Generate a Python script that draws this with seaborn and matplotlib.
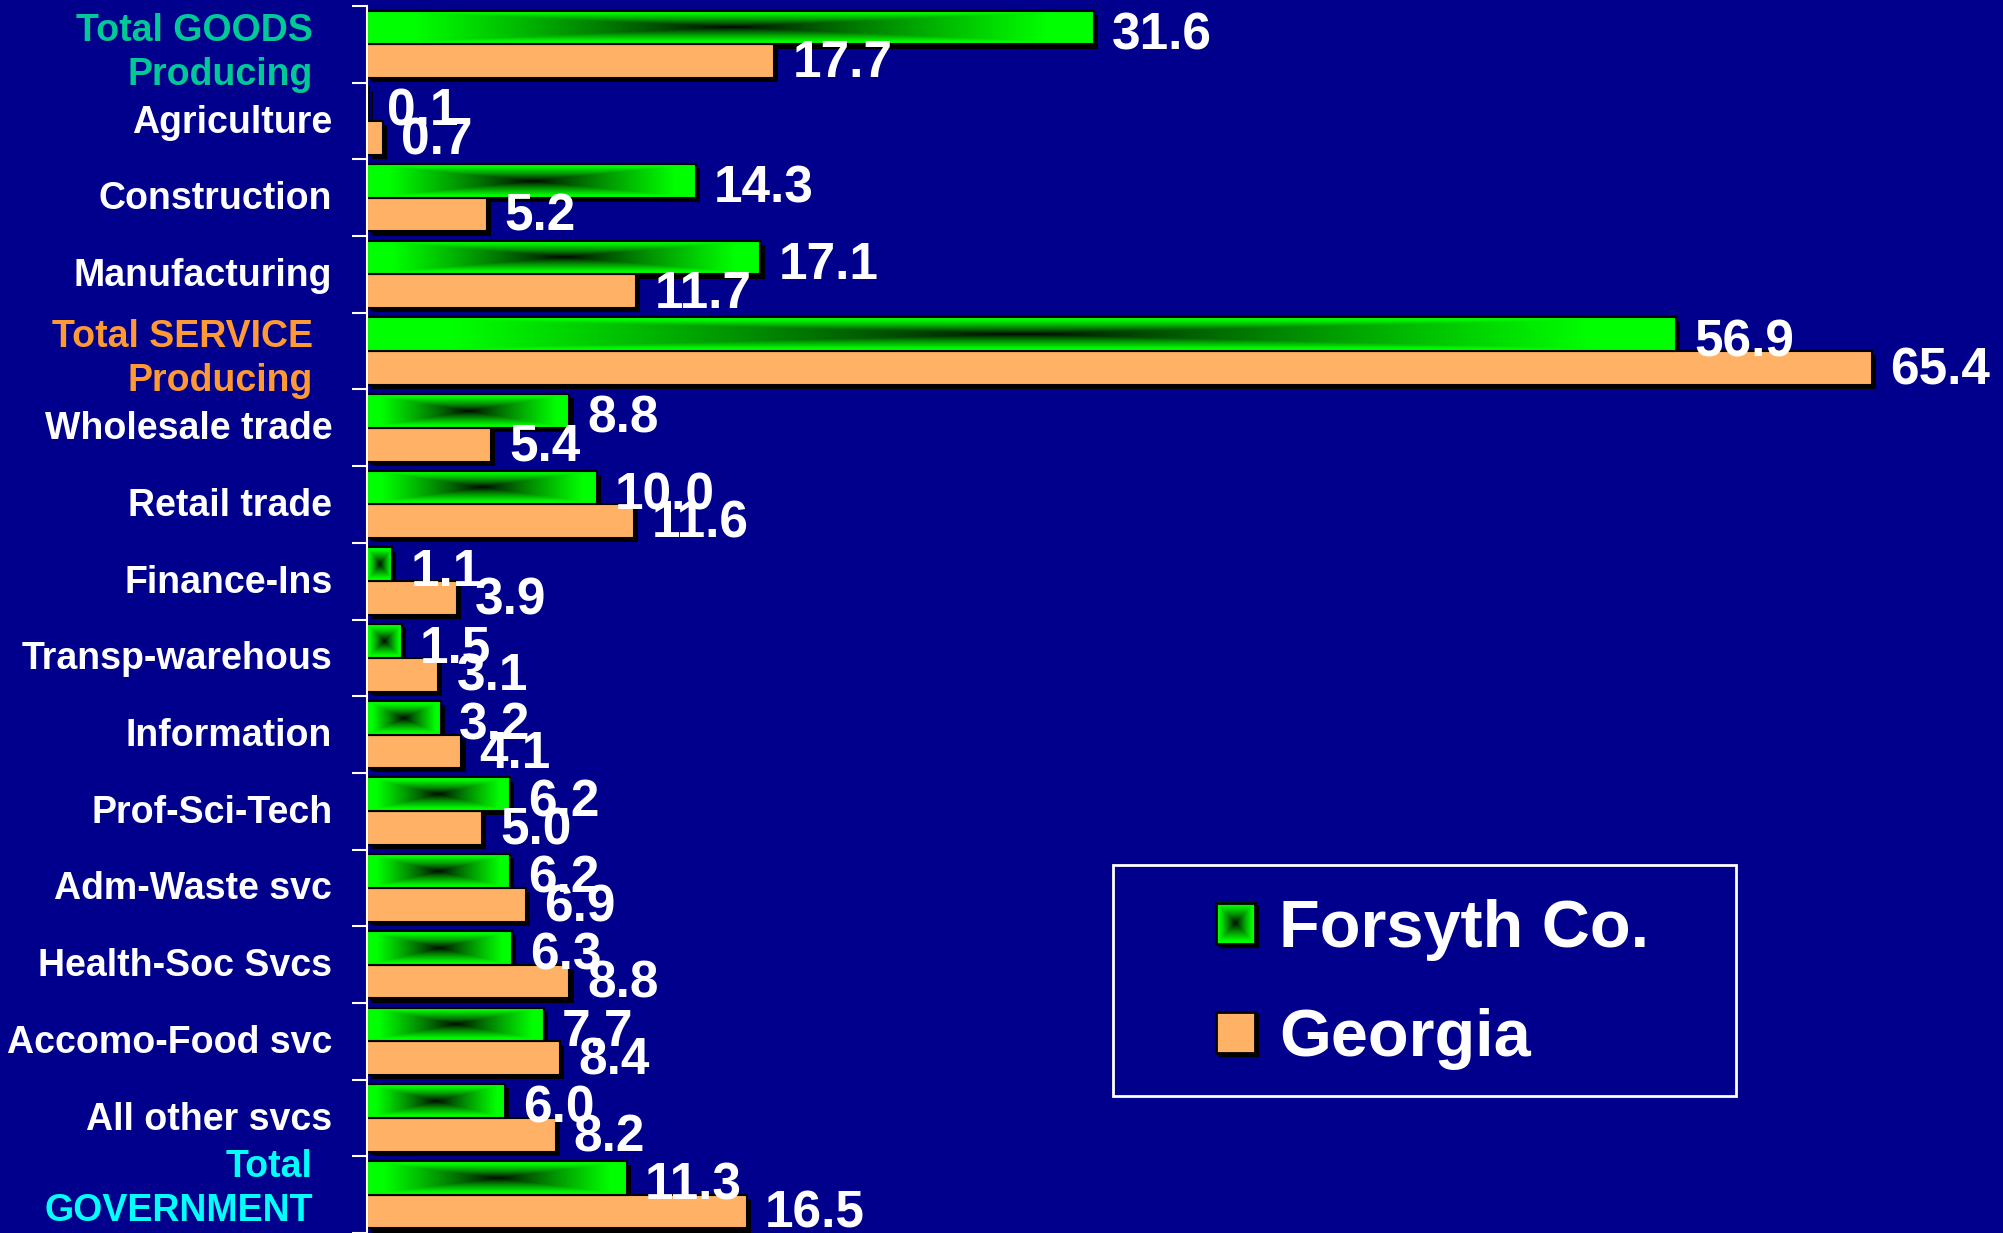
import numpy as np
import pandas as pd
import matplotlib
matplotlib.use("Agg")
import matplotlib.pyplot as plt
import matplotlib.patheffects as pe
from matplotlib.patches import Rectangle
from matplotlib.legend_handler import HandlerBase
from matplotlib.image import BboxImage
from matplotlib.transforms import Bbox, TransformedBbox
import seaborn as sns

categories = ["Total GOODS\nProducing", "Agriculture", "Construction", "Manufacturing",
              "Total SERVICE\nProducing", "Wholesale trade", "Retail trade", "Finance-Ins",
              "Transp-warehous", "Information", "Prof-Sci-Tech", "Adm-Waste svc",
              "Health-Soc Svcs", "Accomo-Food svc", "All other svcs", "Total\nGOVERNMENT"]
forsyth = [31.6, 0.1, 14.3, 17.1, 56.9, 8.8, 10.0, 1.1, 1.5, 3.2, 6.2, 6.2, 6.3, 7.7, 6.0, 11.3]
georgia = [17.7, 0.7, 5.2, 11.7, 65.4, 5.4, 11.6, 3.9, 3.1, 4.1, 5.0, 6.9, 8.8, 8.4, 8.2, 16.5]
series = ["Forsyth Co.", "Georgia"]

# styling for the highlighted (total) category labels
special_style = {"Total GOODS\nProducing": ("#00C896", 0.115),
                 "Total SERVICE\nProducing": ("#FF9933", 0.10),
                 "Total\nGOVERNMENT": ("#00FFFF", -0.07)}

BG = "#00008C"
GREEN = "#00FF00"
ORANGE = "#FFB266"

df = pd.DataFrame({
    "category": categories * 2,
    "value": forsyth + georgia,
    "series": [series[0]] * len(categories) + [series[1]] * len(categories),
})

sns.set_theme(style="white")
plt.rcParams["font.family"] = ["Liberation Sans", "DejaVu Sans"]

fig = plt.figure(figsize=(20.03, 12.33), dpi=100, facecolor=BG)
ax = fig.add_axes([367 / 2003, 0.0, 1 - 367 / 2003, 1 - 6 / 1233])
ax.set_facecolor(BG)

sns.barplot(data=df, y="category", x="value", hue="series", orient="h",
            palette=[GREEN, ORANGE], width=0.88, ax=ax, legend=False,
            edgecolor="black", linewidth=1.5, saturation=1)

shadow = [pe.SimplePatchShadow(offset=(3, -3), shadow_rgbFace="black", alpha=1.0), pe.Normal()]


def grad_array(nx, ny):
    u = np.abs(np.linspace(-1, 1, nx))[None, :]
    w = np.abs(np.linspace(-1, 1, ny))[:, None]
    v = np.maximum(u, w)
    v = np.clip(v * 1.15, 0, 1) ** 0.8
    img = np.zeros((ny, nx, 3))
    img[..., 1] = v
    return img


for bar in ax.containers[0]:
    bar.set_path_effects(shadow)
    x0, y0, w, h = bar.get_x(), bar.get_y(), bar.get_width(), bar.get_height()
    if w <= 0.3:
        continue
    nx = max(20, int(w * 23))
    img = grad_array(nx, 40)
    im = ax.imshow(img, extent=(x0, x0 + w, y0 + h, y0), aspect="auto",
                   interpolation="bilinear", zorder=bar.get_zorder() + 0.1)
    im.set_clip_path(bar)
    ax.add_patch(Rectangle((x0, y0), w, h, facecolor="none", edgecolor="black",
                           linewidth=1.5, zorder=bar.get_zorder() + 0.2))
for bar in ax.containers[1]:
    bar.set_path_effects(shadow)

for k, cont in enumerate(ax.containers):
    dy = -6 if k == 0 else -2
    for bar in cont:
        val = bar.get_width()
        ax.annotate(f"{val:.1f}", xy=(val, bar.get_y() + bar.get_height() / 2),
                    xytext=(13, dy), textcoords="offset points", ha="left", va="center",
                    color="white", fontsize=37, fontweight="bold", zorder=10)

ax.set_xlim(0, 71.1)
ax.set_ylim(len(categories) - 0.5, -0.5)
ax.set_xlabel("")
ax.set_ylabel("")
ax.set_xticks([])
ax.set_yticks(range(len(categories)))
ax.set_yticklabels([])
ax.tick_params(axis="y", which="major", length=0)
ax.set_yticks(np.arange(-0.5, len(categories), 1.0), minor=True)
ax.tick_params(axis="y", which="minor", length=11, width=1.5, color="white", left=True)

for i, cat in enumerate(categories):
    if cat in special_style:
        col, off = special_style[cat]
        ax.annotate(cat, xy=(0, i + off), xycoords=("axes fraction", "data"),
                    xytext=(-39, 0), textcoords="offset points", ha="right", va="center",
                    multialignment="right", color=col, fontsize=27,
                    fontweight="bold", linespacing=1.3)
    else:
        ax.annotate(cat, xy=(0, i + 0.02), xycoords=("axes fraction", "data"),
                    xytext=(-25, 0), textcoords="offset points", ha="right", va="center",
                    color="white", fontsize=27, fontweight="bold")

for s in ["top", "right", "bottom"]:
    ax.spines[s].set_visible(False)
ax.spines["left"].set_color("white")
ax.spines["left"].set_linewidth(1.5)


class GradHandler(HandlerBase):
    def create_artists(self, legend, orig_handle, xdescent, ydescent, width, height, fontsize, trans):
        bb = TransformedBbox(Bbox.from_bounds(-xdescent, -ydescent, width, height), trans)
        bim = BboxImage(bb, interpolation="bilinear")
        bim.set_data(grad_array(40, 40))
        edge = Rectangle((-xdescent, -ydescent), width, height, facecolor="none",
                         edgecolor="black", linewidth=2, transform=trans)
        sh = Rectangle((-xdescent + 2, -ydescent - 2), width, height, facecolor="black",
                       edgecolor="black", transform=trans)
        return [sh, bim, edge]


class SolidHandler(HandlerBase):
    def create_artists(self, legend, orig_handle, xdescent, ydescent, width, height, fontsize, trans):
        sh = Rectangle((-xdescent + 2, -ydescent - 2), width, height, facecolor="black",
                       edgecolor="black", transform=trans)
        r = Rectangle((-xdescent, -ydescent), width, height, facecolor=ORANGE,
                      edgecolor="black", linewidth=2, transform=trans)
        return [sh, r]


h1 = Rectangle((0, 0), 1, 1, facecolor=GREEN)
h2 = Rectangle((0, 0), 1, 1, facecolor=ORANGE)
leg = ax.legend([h1, h2], series, handler_map={h1: GradHandler(), h2: SolidHandler()},
                loc="upper left", bbox_to_anchor=(0.519, 0.272), frameon=False,
                borderpad=0, borderaxespad=0, handlelength=0.58, handleheight=0.58,
                handletextpad=0.37, labelspacing=0.7,
                prop={"size": 48, "weight": "bold"})
for t in leg.get_texts():
    t.set_color("white")

ax.add_patch(Rectangle((0.456, 0.112), 0.381, 0.188, transform=ax.transAxes,
                       facecolor="none", edgecolor="white", linewidth=2, zorder=11))

fig.savefig("out.png", dpi=100, facecolor=BG)
